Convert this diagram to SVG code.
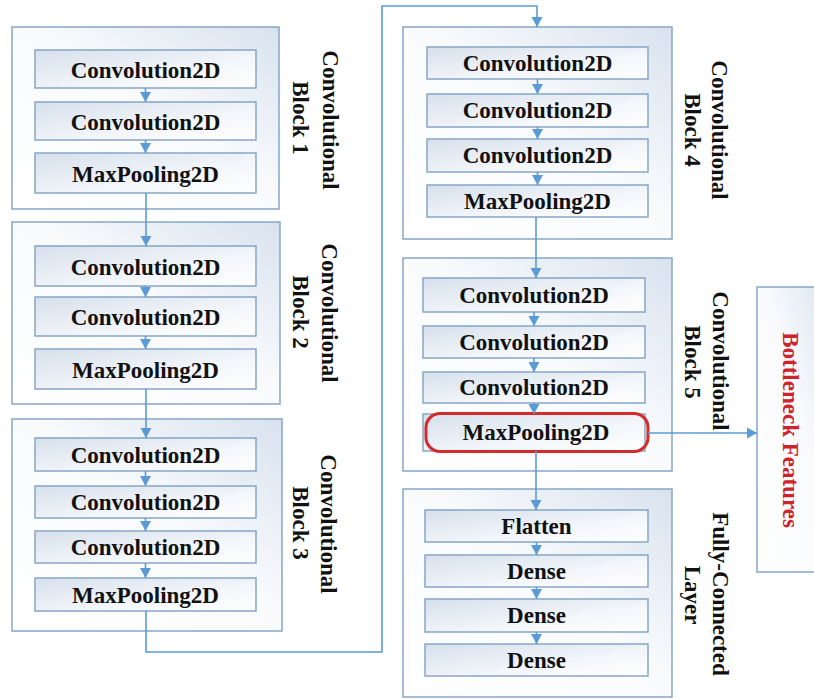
<svg xmlns="http://www.w3.org/2000/svg" width="814" height="699" viewBox="0 0 814 699">
<defs>
<linearGradient id="gOuter" x1="0" y1="1" x2="1" y2="0">
<stop offset="0" stop-color="#ffffff"/>
<stop offset="0.55" stop-color="#f8fafc"/>
<stop offset="1" stop-color="#d8e2ee"/>
</linearGradient>
<linearGradient id="gInner" x1="0" y1="0" x2="1" y2="1">
<stop offset="0" stop-color="#d6e0ec"/>
<stop offset="0.6" stop-color="#f3f6fa"/>
<stop offset="1" stop-color="#ffffff"/>
</linearGradient>
<marker id="arr" markerUnits="userSpaceOnUse" markerWidth="12" markerHeight="12" viewBox="0 0 12 12" refX="10" refY="6" orient="auto">
<path d="M0,0.5 L10,6 L0,11.5 Z" fill="#5b9bd5"/>
</marker>
</defs>
<style>
.outer{fill:url(#gOuter);stroke:#86a6c6;stroke-width:1.5}
.inner{fill:url(#gInner);stroke:#86a6c6;stroke-width:1.5}
.t{font-family:"Liberation Serif","Times New Roman",serif;font-weight:bold;font-size:23px;fill:#111;text-anchor:middle;dominant-baseline:central}
.c{fill:none;stroke:#5b9bd5;stroke-width:1.6}
.ca{fill:none;stroke:#5b9bd5;stroke-width:1.6;marker-end:url(#arr)}
.red{fill:none;stroke:#d42a2a;stroke-width:3}
</style>

<g id="block1">
<rect class="outer" x="12" y="27" width="267" height="182"/>
<rect class="inner" x="35" y="50" width="221" height="38"/><text class="t" x="145.5" y="70">Convolution2D</text>
<rect class="inner" x="35" y="102" width="221" height="38"/><text class="t" x="145.5" y="122">Convolution2D</text>
<rect class="inner" x="35" y="153" width="221" height="40"/><text class="t" x="145.5" y="174">MaxPooling2D</text>
<text class="t" transform="translate(330,120) rotate(90)">Convolutional</text>
<text class="t" transform="translate(300,118) rotate(90)">Block 1</text>
</g>

<g id="block2">
<rect class="outer" x="12" y="222" width="268" height="182"/>
<rect class="inner" x="35" y="246" width="221" height="40"/><text class="t" x="145.5" y="267">Convolution2D</text>
<rect class="inner" x="35" y="297" width="221" height="39"/><text class="t" x="145.5" y="317">Convolution2D</text>
<rect class="inner" x="35" y="349" width="221" height="40"/><text class="t" x="145.5" y="370">MaxPooling2D</text>
<text class="t" transform="translate(329,313) rotate(90)">Convolutional</text>
<text class="t" transform="translate(300,312) rotate(90)">Block 2</text>
</g>

<g id="block3">
<rect class="outer" x="12" y="419" width="270" height="212"/>
<rect class="inner" x="35" y="438" width="221" height="33"/><text class="t" x="145.5" y="455">Convolution2D</text>
<rect class="inner" x="35" y="486" width="221" height="32"/><text class="t" x="145.5" y="502">Convolution2D</text>
<rect class="inner" x="35" y="531" width="221" height="32"/><text class="t" x="145.5" y="547">Convolution2D</text>
<rect class="inner" x="35" y="578" width="221" height="33"/><text class="t" x="145.5" y="595">MaxPooling2D</text>
<text class="t" transform="translate(328,524) rotate(90)">Convolutional</text>
<text class="t" transform="translate(300,523) rotate(90)">Block 3</text>
</g>

<g id="block4">
<rect class="outer" x="403" y="27" width="269" height="212"/>
<rect class="inner" x="427" y="47" width="221" height="32"/><text class="t" x="537.5" y="63">Convolution2D</text>
<rect class="inner" x="427" y="94" width="221" height="33"/><text class="t" x="537.5" y="110.5">Convolution2D</text>
<rect class="inner" x="427" y="139" width="221" height="33"/><text class="t" x="537.5" y="155.5">Convolution2D</text>
<rect class="inner" x="427" y="185" width="221" height="32"/><text class="t" x="537.5" y="201">MaxPooling2D</text>
<text class="t" transform="translate(719,130) rotate(90)">Convolutional</text>
<text class="t" transform="translate(692,130) rotate(90)">Block 4</text>
</g>

<g id="block5">
<rect class="outer" x="403" y="258" width="269" height="213"/>
<rect class="inner" x="423" y="278" width="222" height="34"/><text class="t" x="534" y="295">Convolution2D</text>
<rect class="inner" x="423" y="326" width="222" height="32"/><text class="t" x="534" y="342">Convolution2D</text>
<rect class="inner" x="423" y="372" width="222" height="31"/><text class="t" x="534" y="387.5">Convolution2D</text>
<rect class="inner" x="423" y="414" width="222" height="37"/>
<rect class="red" x="426" y="413.5" width="222" height="38" rx="14"/>
<text class="t" x="536" y="432.5">MaxPooling2D</text>
<text class="t" transform="translate(720,361) rotate(90)">Convolutional</text>
<text class="t" transform="translate(692,362) rotate(90)">Block 5</text>
</g>

<g id="fc">
<rect class="outer" x="403" y="489" width="269" height="208"/>
<rect class="inner" x="425" y="510" width="223" height="32"/><text class="t" x="536.5" y="526">Flatten</text>
<rect class="inner" x="425" y="555" width="223" height="32"/><text class="t" x="536.5" y="571">Dense</text>
<rect class="inner" x="425" y="599" width="223" height="33"/><text class="t" x="536.5" y="615.5">Dense</text>
<rect class="inner" x="425" y="644" width="223" height="32"/><text class="t" x="536.5" y="660">Dense</text>
<text class="t" transform="translate(720,594) rotate(90)">Fully-Connected</text>
<text class="t" transform="translate(692,595) rotate(90)">Layer</text>
</g>

<g id="bottleneck">
<rect class="outer" x="757" y="287" width="80" height="285"/>
<text class="t" style="fill:#d0222a" transform="translate(790,430) rotate(90)">Bottleneck Features</text>
</g>

<g id="connectors">
<path class="ca" d="M145.5 88 V102"/>
<path class="ca" d="M145.5 140 V153"/>
<path class="ca" d="M146 193 V246"/>
<path class="ca" d="M145.5 286 V297"/>
<path class="ca" d="M145.5 336 V349"/>
<path class="ca" d="M146 389 V438"/>
<path class="ca" d="M145.5 471 V486"/>
<path class="ca" d="M145.5 518 V531"/>
<path class="ca" d="M145.5 563 V578"/>
<path class="ca" d="M146 611 V652 H382 V6 H537 V27"/>
<path class="ca" d="M537.5 79 V94"/>
<path class="ca" d="M537.5 127 V139"/>
<path class="ca" d="M537.5 172 V185"/>
<path class="ca" d="M536 217 V278"/>
<path class="ca" d="M534 312 V326"/>
<path class="ca" d="M534 358 V372"/>
<path class="ca" d="M534 403 V414"/>
<path class="ca" d="M536 451 V510"/>
<path class="ca" d="M536.5 542 V555"/>
<path class="ca" d="M536.5 587 V599"/>
<path class="ca" d="M536.5 632 V644"/>
<path class="ca" d="M648 433 H757"/>
</g>
</svg>
